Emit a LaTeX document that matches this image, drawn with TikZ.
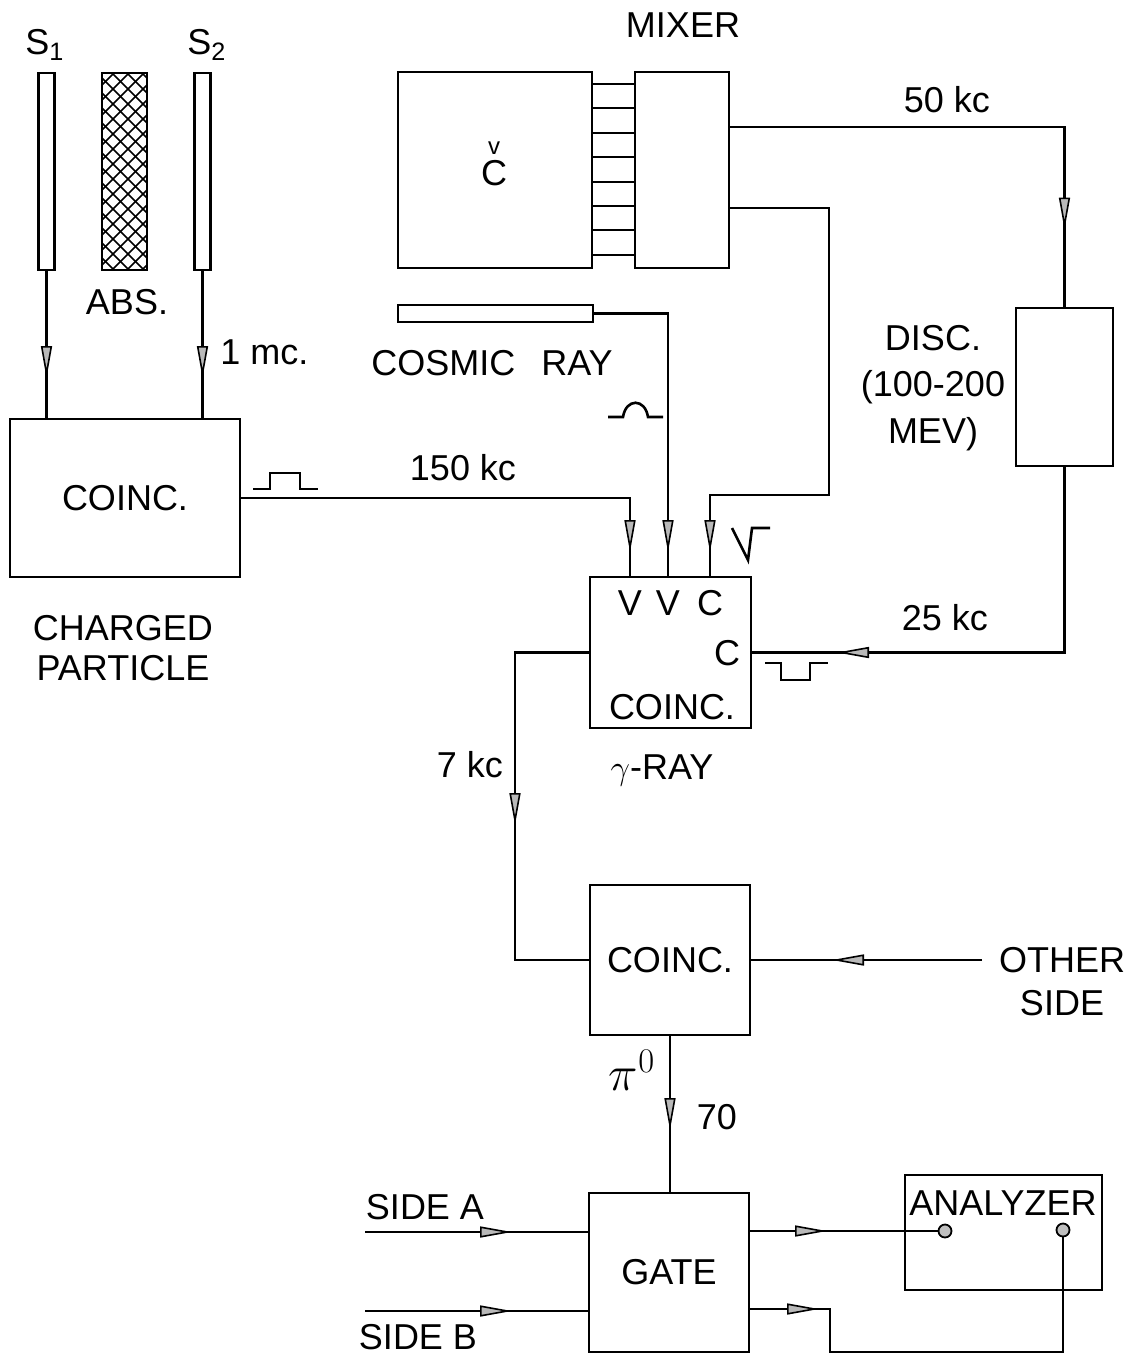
\documentclass[tikz,border=0pt]{standalone}
\usepackage{fontspec}
\setmainfont{Liberation Sans}
\usetikzlibrary{arrows.meta,decorations.markings,calc}
\tikzset{
  blk/.style={draw,line width=1.45pt,inner sep=0pt,outer sep=0pt},
  wire/.style={line width=1.15pt},
  tipat/.style={postaction={decorate,decoration={markings,mark=at position #1 with {\arrow{Triangle[length=16pt,width=5.5pt,fill=gray!55,line width=0.8pt]}}}}},
  lbl/.style={font=\fontsize{18}{22}\selectfont,inner sep=0pt},
  pulse/.style={line width=1.3pt},
  dotc/.style={circle,draw,line width=0.9pt,fill=gray!50,minimum size=6.5pt,inner sep=0pt},
  hatch/.style={line width=0.75pt},
}
\begin{document}
\begin{tikzpicture}[x=0.5pt,y=-0.5pt]
\useasboundingbox (0,0) rectangle (1135,1357);
\fill[white] (0,0) rectangle (1135,1357);

% detectors S1, S2 and absorber
\begin{scope}
  \clip (102,73) rectangle (147,270);
  \foreach \c in {0,15,...,270} {
    \draw[hatch] (-98+\c,73) -- ++(250,250);
    \draw[hatch] (-98+\c,270) -- ++(250,-250);
  }
\end{scope}
\node[blk,minimum width=8pt,minimum height=98.5pt] (s1) at (46.5,171.5) {};
\node[blk,minimum width=22.5pt,minimum height=98.5pt] (abs) at (124.5,171.5) {};
\node[blk,minimum width=8pt,minimum height=98.5pt] (s2) at (202.5,171.5) {};
\node[lbl] (ls1) at (45,45) {S\textsubscript{1}};
\node[lbl] (ls2) at (207,45) {S\textsubscript{2}};
\node[lbl] (labs) at (127,302) {ABS.};
\node[lbl,anchor=west] (lmc) at (220,352) {1 mc.};

% charged particle coincidence
\node[blk,lbl,minimum width=115pt,minimum height=79pt] (c1) at (125,498) {COINC.};
\node[lbl,align=center] (lcp) at (123,648) {CHARGED\\[-2pt]PARTICLE};

% Cerenkov counter and mixer
\node[blk,minimum width=97pt,minimum height=98pt] (cer) at (495,170) {};
\node[lbl] (lcer) at (494,173) {\ooalign{C\cr\hidewidth\raisebox{15.5pt}[0pt][0pt]{\fontsize{12}{12}\selectfont v}\hidewidth\cr}};
\node[blk,minimum width=47pt,minimum height=98pt] (mix) at (682,170) {};
\foreach \y in {84,108,133,157,182,206,230,255}
  \draw[wire] (cer.east |- 0,\y) -- (mix.west |- 0,\y);
\node[lbl] (lmix) at (683,25) {MIXER};

% cosmic ray counter
\node[blk,minimum width=97.5pt,minimum height=8.5pt] (cr) at (495.5,313.5) {};
\node[lbl] (lcr) at (492,363) {COSMIC\hspace{8pt} RAY};

% discriminator
\node[blk,minimum width=48.5pt,minimum height=79pt] (disc) at (1064.5,387) {};
\node[lbl,align=center] (ldisc) at (933,388) {DISC.\\[1.25pt](100-200\\[1.25pt]MEV)};

% gamma-ray coincidence
\node[blk,minimum width=80.5pt,minimum height=75.5pt] (g) at (670.5,652.5) {};
\node[lbl] (gv1) at (630,603) {V};
\node[lbl] (gv2) at (668,603) {V};
\node[lbl] (gc1) at (710,603) {C};
\node[lbl] (gc2) at (727,653) {C};
\node[lbl] (gco) at (672,707) {COINC.};
\node[lbl] (lgr) at (662,770) {$\gamma$-RAY};

% pi0 coincidence
\node[blk,lbl,minimum width=80pt,minimum height=75pt] (c3) at (670,960) {COINC.};
\node[lbl,align=center] (los) at (1062,981.5) {OTHER\\[-0.5pt]SIDE};

% gate and analyzer
\node[blk,lbl,minimum width=80pt,minimum height=79.5pt] (gate) at (669,1272.5) {GATE};
\node[blk,minimum width=98.5pt,minimum height=57.5pt] (an) at (1003.5,1232.5) {};
\node[lbl] (lan) at (1003,1203) {ANALYZER};
\node[dotc] (d1) at (945,1231) {};
\node[dotc] (d2) at (1063,1230) {};
\node[lbl] (lsa) at (425,1207) {SIDE A};
\node[lbl] (lsb) at (418,1337) {SIDE B};

% frequency labels
\node[lbl] (l150) at (463,468) {150 kc};
\node[lbl] (l50) at (947,100) {50 kc};
\node[lbl] (l25) at (945,618) {25 kc};
\node[lbl] (l7) at (470,765) {7 kc};
\node[lbl,font=\fontsize{24}{26}\selectfont] (lpi) at (632,1070) {$\pi^{0}$};
\node[lbl] (l70) at (717,1117) {70};

% coordinates
\coordinate (gi1) at (g.north -| 630,0);
\coordinate (gi2) at (g.north -| 668,0);
\coordinate (gi3) at (g.north -| 710,0);
\coordinate (k1) at (829,495);
\coordinate (k2) at (515,800);
\coordinate (k3) at (830,1352);
\coordinate (os) at (982,960);
\coordinate (sa) at (365,1232);
\coordinate (sb) at (365,1311);

% connectors
\draw[wire,tipat=54pt] (s1.south) -- (s1.south |- c1.north);
\draw[wire,tipat=54pt] (s2.south) -- (s2.south |- c1.north);
\draw[wire,tipat=222pt] (c1.east) -| (gi1);
\draw[wire,tipat=156.75pt] (cr.east) -| (gi2);
\draw[wire,tipat=281.5pt] (mix.east |- 0,208) -| (k1) -| (gi3);
\draw[wire,tipat=219pt] (mix.east |- 0,127) -| (disc.north);
\draw[wire,tipat=207pt] (disc.south) |- (g.east);
\draw[wire,tipat=123.75pt] (g.west) -| (k2) |- (c3.west);
\draw[wire,tipat=75pt] (os) -- (c3.east);
\draw[wire,tipat=47.5pt] (c3.south) -- (c3.south |- gate.north);
\draw[wire,tipat=73.5pt] (sa) -- (sa -| gate.west);
\draw[wire,tipat=73.5pt] (sb) -- (sb -| gate.west);
\draw[wire,tipat=39pt] (gate.east |- d1) -- (d1);
\draw[wire,tipat=35pt] (gate.east |- 0,1309) -| (k3) -| (d2);

% pulse shapes
\draw[pulse] (253,489) -- (270,489) -- (270,473) -- (300,473) -- (300,489) -- (318,489);
\draw[pulse] (608,417) -- (623,417) .. controls (626,398) and (645,398) .. (648,417) -- (663,417);
\draw[pulse] (732,528) -- (748,560) -- (752,528) -- (770,528);
\draw[pulse] (765,663) -- (781,663) -- (781,680) -- (810,680) -- (810,663) -- (828,663);
\end{tikzpicture}
\end{document}
